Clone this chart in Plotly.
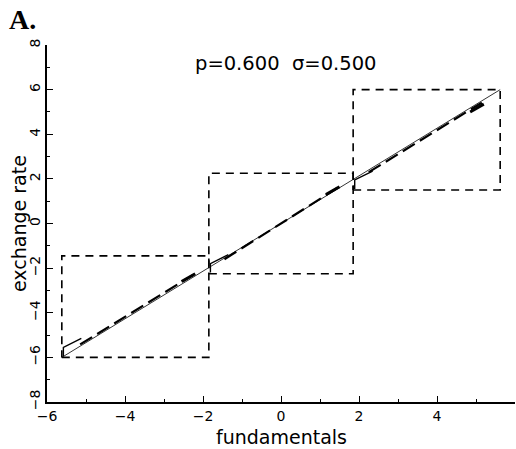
import plotly.graph_objects as go

# ---- data ----
box_x_lo = [-5.62, -1.85, 1.85]
box_x_hi = [-1.85, 1.85, 5.62]
box_y_lo = [-6.0, -2.25, 1.5]
box_y_hi = [-1.45, 2.25, 6.0]

# thin solid trajectory (fundamentals, exchange rate)
line_x = [-5.62, -3.7, -1.85, 0.0, 1.85, 3.7, 5.62]
line_y = [-6.0, -3.95, -1.98, 0.0, 1.98, 3.95, 6.0]

# thicker dashed segments inside each band
seg_x = [[-5.15, -2.25], [-1.45, 1.45], [2.25, 5.15]]
seg_y = [[-5.42, -2.3], [-1.6, 1.6], [2.3, 5.42]]

# hooks near the lower-left corner of each band (offsets from the corner)
hook_dx = [0.04, 0.04, 0.5]
hook_dy = [0.05, 0.45, 0.85]

# thick bits near upper-right of each band
tip_x = [[-2.55, -2.2], [1.15, 1.5], [4.85, 5.2]]
tip_y = [[-2.6, -2.25], [1.3, 1.65], [5.0, 5.35]]

label_text = "p=0.600  \u03c3=0.500"

fig = go.Figure()

# dashed boxes
for xl, xh, yl, yh in zip(box_x_lo, box_x_hi, box_y_lo, box_y_hi):
    fig.add_trace(go.Scatter(
        x=[xl, xh, xh, xl, xl], y=[yl, yl, yh, yh, yl], mode="lines",
        line=dict(color="black", width=1.6, dash="8px,6px"),
        hoverinfo="skip", showlegend=False))

# thin solid line
fig.add_trace(go.Scatter(x=line_x, y=line_y, mode="lines",
                         line=dict(color="black", width=0.8),
                         showlegend=False))

# dashed thicker curves
for sx, sy in zip(seg_x, seg_y):
    fig.add_trace(go.Scatter(x=sx, y=sy, mode="lines",
                             line=dict(color="black", width=2.2, dash="14px,6px"),
                             showlegend=False))

# hooks
for xl, yl in zip(box_x_lo, box_y_lo):
    fig.add_trace(go.Scatter(
        x=[xl + d for d in hook_dx], y=[yl + d for d in hook_dy], mode="lines",
        line=dict(color="black", width=1.4), showlegend=False))

# tips
for tx, ty in zip(tip_x, tip_y):
    fig.add_trace(go.Scatter(x=tx, y=ty, mode="lines",
                             line=dict(color="black", width=3),
                             showlegend=False))

axis_common = dict(
    showgrid=False, zeroline=False, showline=True, linecolor="black",
    linewidth=1.6, ticks="inside", ticklen=6, tickwidth=1.3, tickcolor="black",
    tickfont=dict(family="DejaVu Sans", size=14, color="black"),
    minor=dict(ticks="inside", ticklen=3, tickwidth=1, tickcolor="black", dtick=1),
    mirror=False,
)

fig.update_xaxes(range=[-6, 6], tickmode="linear", tick0=-6, dtick=2, **axis_common)
fig.update_yaxes(range=[-8, 8], tickmode="linear", tick0=-8, dtick=2, tickangle=-90,
                 **axis_common)


def px_x(p):
    return (p - 47) / 468


def px_y(p):
    return (402 - p) / 357


fig.update_layout(
    width=516, height=449,
    margin=dict(l=47, r=1, t=45, b=47),
    plot_bgcolor="white", paper_bgcolor="white",
    showlegend=False,
    annotations=[
        dict(text=label_text, xref="paper", yref="paper",
             x=px_x(285), y=px_y(63), xanchor="center", yanchor="middle",
             showarrow=False,
             font=dict(family="DejaVu Sans", size=19.5, color="black")),
        dict(text="fundamentals", xref="paper", yref="paper",
             x=px_x(281), y=px_y(437), xanchor="center", yanchor="middle",
             showarrow=False,
             font=dict(family="DejaVu Sans", size=19, color="black")),
        dict(text="exchange rate", xref="paper", yref="paper",
             x=px_x(19), y=px_y(224), xanchor="center", yanchor="middle",
             showarrow=False, textangle=-90,
             font=dict(family="DejaVu Sans", size=19, color="black")),
        dict(text="<b>A.</b>", xref="paper", yref="paper",
             x=px_x(7), y=px_y(19), xanchor="left", yanchor="middle",
             showarrow=False,
             font=dict(family="Liberation Serif", size=28, color="black")),
    ],
)

fig.write_html("out.html")
